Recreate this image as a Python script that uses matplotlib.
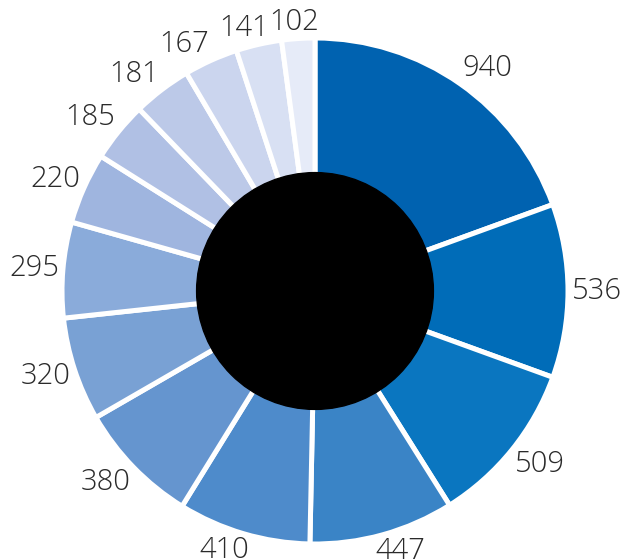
import numpy as np
import matplotlib.pyplot as plt

values = [940, 536, 509, 447, 410, 380, 320, 295, 220, 185, 181, 167, 141, 102]
labels = [str(v) for v in values]
colors = ['#0062b0', '#006cb8', '#0a76c0', '#3a84c6', '#4e8bcb', '#6595cf',
          '#79a1d4', '#8aabda', '#9fb5df', '#b0c0e4', '#bcc9e8', '#cbd5ee',
          '#d8e0f3', '#e6ebf8']

W, H = 627, 559
CX, CY, RPX = 315, 291, 253  # pixel centre / radius in the reference

fig = plt.figure(figsize=(W / 100, H / 100), dpi=100)
ax = fig.add_axes([0, 0, 1, 1])

wedges, _ = ax.pie(values, colors=colors, startangle=90, counterclock=False,
                   radius=1.0, wedgeprops=dict(edgecolor='white', linewidth=3.6))
ax.add_patch(plt.Circle((0, 0), 0.468, color='black', zorder=5))

ax.set_xlim(-CX / RPX, (W - CX) / RPX)
ax.set_ylim(-(H - CY) / RPX, CY / RPX)
ax.set_aspect('auto')
ax.axis('off')

renderer = fig.canvas.get_renderer()
r_lab = (RPX + 4) / RPX
for w, lab in zip(wedges, labels):
    ang = np.deg2rad((w.theta1 + w.theta2) / 2)
    dx, dy = np.cos(ang), np.sin(ang)
    t = ax.annotate(lab, (r_lab * dx, r_lab * dy), xytext=(0, 0),
                    textcoords='offset pixels', ha='center', va='center',
                    fontsize=21, color='#2a2a2a', family='Open Sans',
                    weight='light')
    bb = t.get_window_extent(renderer)
    # push the label box off the ring: corner anchored, smoothly
    sx = np.clip(2.5 * dx, -1, 1)
    sy = np.clip(1.5 * dy, -1, 1)
    t.set_position((sx * bb.width / 2, sy * bb.height * 0.42))

fig.savefig('out.png', dpi=100)
